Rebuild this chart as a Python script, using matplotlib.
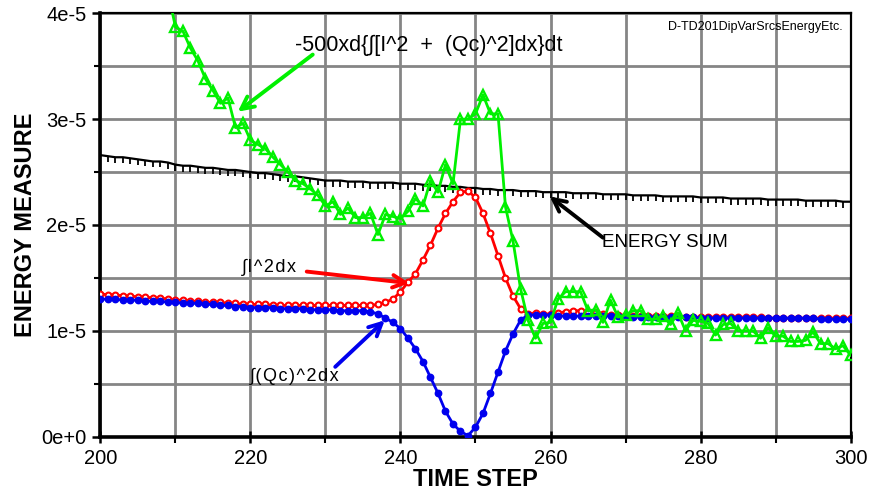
import matplotlib
matplotlib.use("Agg")
import matplotlib.pyplot as plt
from matplotlib.ticker import MultipleLocator, FixedLocator, FixedFormatter

plt.rcParams['font.family'] = ['Liberation Sans', 'DejaVu Sans']

steps = list(range(200, 301))

# energy sum (units of 1e-5)
energy_sum = [
    2.66, 2.65, 2.64, 2.64, 2.63, 2.62, 2.61, 2.60, 2.60, 2.59, 2.57,
    2.56, 2.56, 2.55, 2.54, 2.54, 2.53, 2.52, 2.52, 2.51, 2.50,
    2.49, 2.49, 2.48, 2.47, 2.46, 2.46, 2.45, 2.44, 2.43, 2.42,
    2.42, 2.42, 2.41, 2.41, 2.41, 2.40, 2.40, 2.40, 2.40, 2.39,
    2.39, 2.39, 2.38, 2.38, 2.37, 2.37, 2.36, 2.36, 2.35, 2.35,
    2.34, 2.34, 2.33, 2.33, 2.33, 2.32, 2.32, 2.32, 2.31, 2.31,
    2.31, 2.31, 2.30, 2.30, 2.30, 2.30, 2.29, 2.29, 2.29, 2.29,
    2.28, 2.28, 2.28, 2.28, 2.27, 2.27, 2.27, 2.27, 2.27, 2.26,
    2.26, 2.26, 2.26, 2.25, 2.25, 2.25, 2.25, 2.25, 2.24, 2.24,
    2.24, 2.24, 2.24, 2.23, 2.23, 2.23, 2.23, 2.23, 2.22, 2.22,
]

# integral of I^2 over x
int_i2 = [
    1.35, 1.34, 1.34, 1.33, 1.33, 1.32, 1.32, 1.31, 1.31, 1.30, 1.29,
    1.29, 1.28, 1.28, 1.27, 1.27, 1.27, 1.26, 1.26, 1.25, 1.25,
    1.25, 1.25, 1.24, 1.24, 1.24, 1.24, 1.24, 1.24, 1.24, 1.24,
    1.24, 1.24, 1.24, 1.24, 1.24, 1.24, 1.25, 1.27, 1.30, 1.37,
    1.46, 1.54, 1.67, 1.81, 1.97, 2.11, 2.22, 2.31, 2.32, 2.26,
    2.11, 1.92, 1.71, 1.50, 1.33, 1.21, 1.16, 1.17, 1.16, 1.16,
    1.17, 1.18, 1.19, 1.19, 1.18, 1.18, 1.16, 1.15, 1.15, 1.15,
    1.14, 1.14, 1.14, 1.14, 1.14, 1.14, 1.14, 1.13, 1.13, 1.13,
    1.13, 1.13, 1.13, 1.13, 1.13, 1.13, 1.13, 1.13, 1.12, 1.12,
    1.12, 1.12, 1.12, 1.12, 1.12, 1.12, 1.12, 1.12, 1.12, 1.12,
]

# integral of (Qc)^2 over x
int_qc2 = [
    1.30, 1.30, 1.30, 1.29, 1.29, 1.29, 1.28, 1.28, 1.28, 1.27, 1.27,
    1.26, 1.26, 1.26, 1.25, 1.25, 1.24, 1.24, 1.23, 1.23, 1.22,
    1.22, 1.22, 1.22, 1.21, 1.21, 1.21, 1.21, 1.20, 1.20, 1.20,
    1.20, 1.19, 1.19, 1.19, 1.19, 1.18, 1.16, 1.12, 1.08, 1.02,
    0.93, 0.83, 0.71, 0.56, 0.41, 0.24, 0.12, 0.05, 0.01, 0.09,
    0.22, 0.41, 0.61, 0.81, 0.97, 1.10, 1.15, 1.15, 1.15, 1.15,
    1.14, 1.14, 1.14, 1.14, 1.14, 1.14, 1.14, 1.14, 1.14, 1.14,
    1.13, 1.13, 1.13, 1.13, 1.13, 1.13, 1.13, 1.13, 1.13, 1.12,
    1.12, 1.12, 1.12, 1.12, 1.12, 1.12, 1.12, 1.12, 1.12, 1.12,
    1.12, 1.12, 1.12, 1.12, 1.12, 1.11, 1.11, 1.11, 1.11, 1.11,
]

# -500 x d/dt of the total integral, steps 207..300
rate_steps = list(range(207, 301))
rate = [
    4.90, 4.55, 4.20, 3.87, 3.83, 3.67, 3.55, 3.38, 3.27, 3.15, 3.20,
    2.92, 2.96, 2.80, 2.76, 2.72, 2.64, 2.57, 2.50, 2.42, 2.39,
    2.34, 2.28, 2.18, 2.22, 2.10, 2.16, 2.07, 2.07, 2.11, 1.91,
    2.10, 2.08, 2.06, 2.13, 2.25, 2.18, 2.42, 2.31, 2.57, 2.39,
    3.00, 3.00, 3.05, 3.23, 3.05, 3.05, 2.17, 1.85, 1.40, 1.10,
    0.93, 1.07, 1.08, 1.30, 1.37, 1.37, 1.37, 1.19, 1.20, 1.08,
    1.29, 1.13, 1.15, 1.19, 1.19, 1.11, 1.11, 1.14, 1.06, 1.17,
    1.00, 1.10, 1.09, 1.07, 0.96, 1.06, 1.07, 1.00, 1.00, 1.00,
    0.93, 1.03, 0.95, 0.95, 0.90, 0.90, 0.91, 0.99, 0.88, 0.88,
    0.83, 0.86, 0.77,
]

scale = 1e-5
y_ticks = [0, 1e-5, 2e-5, 3e-5, 4e-5]
y_tick_labels = ["0e+0", "1e-5", "2e-5", "3e-5", "4e-5"]
x_ticks = [200, 220, 240, 260, 280, 300]

GREEN = '#00f000'
RED = '#ff0000'
BLUE = '#0000ee'


def tracked(s):
    """Loosen letter spacing slightly with hair spaces between characters."""
    return '\u200a'.join(s)


fig = plt.figure(figsize=(8.70, 4.98), dpi=100)
ax = fig.add_axes([0.1155, 0.1231, 0.8621, 0.8502])

ax.plot(steps, [v * scale for v in energy_sum], color='black', lw=1.6,
        marker=3, ms=4, mew=1.3, zorder=3)
ax.plot(steps, [v * scale for v in int_i2], color=RED, lw=2.0,
        marker='o', ms=4.2, mfc='white', mec=RED, mew=1.5, zorder=4)
ax.plot(steps, [v * scale for v in int_qc2], color=BLUE, lw=2.0,
        marker='o', ms=4.6, mfc=BLUE, mec=BLUE, zorder=5)
ax.plot(rate_steps, [v * scale for v in rate], color=GREEN, lw=2.0,
        marker='^', ms=7.5, mfc='none', mec=GREEN, mew=1.7, zorder=6)

ax.set_xlim(200, 300)
ax.set_ylim(0, 4e-5)

ax.xaxis.set_major_locator(FixedLocator(x_ticks))
ax.xaxis.set_minor_locator(MultipleLocator(10))
ax.yaxis.set_major_locator(FixedLocator(y_ticks))
ax.yaxis.set_major_formatter(FixedFormatter(y_tick_labels))
ax.yaxis.set_minor_locator(MultipleLocator(0.5e-5))

ax.grid(which='both', color='#858585', lw=2.0)
ax.set_axisbelow(True)

ax.tick_params(axis='y', which='major', direction='out', length=6, width=1.8,
               labelsize=14.5, pad=4)
ax.tick_params(axis='y', which='minor', direction='out', length=4, width=1.5)
ax.tick_params(axis='x', which='major', direction='inout', length=9, width=1.8,
               labelsize=14.5, pad=4)
ax.tick_params(axis='x', which='minor', direction='out', length=4, width=1.5)

for side in ('left', 'bottom'):
    ax.spines[side].set_linewidth(2.6)
for side in ('top', 'right'):
    ax.spines[side].set_linewidth(1.6)

ax.set_xlabel("TIME STEP", fontsize=17, fontweight='bold', labelpad=0)
ax.set_ylabel("ENERGY MEASURE", fontsize=17, fontweight='bold', labelpad=3)

# annotations
arrow_kw = dict(arrowstyle='->,head_length=0.9,head_width=0.45', lw=2.8,
                shrinkA=0, shrinkB=0)

ax.annotate('', xy=(218.3, 3.07e-5), xytext=(228.3, 3.61e-5),
            arrowprops=dict(color=GREEN, **arrow_kw), zorder=7)
ax.text(225.9, 3.70e-5, "-500xd{\u222b[I^2  +  (Qc)^2]dx}dt", fontsize=15.5,
        ha='left', va='center')

ax.annotate('', xy=(241.2, 1.45e-5), xytext=(227.5, 1.56e-5),
            arrowprops=dict(color=RED, **arrow_kw), zorder=7)
ax.text(218.9, 1.60e-5, tracked("\u222bI^2dx"), fontsize=13,
        ha='left', va='center')

ax.annotate('', xy=(237.9, 1.10e-5), xytext=(231.3, 0.66e-5),
            arrowprops=dict(color=BLUE, **arrow_kw), zorder=7)
ax.text(219.9, 0.565e-5, tracked("\u222b(Qc)^2dx"), fontsize=13,
        ha='left', va='center')

ax.annotate('', xy=(259.9, 2.27e-5), xytext=(267.0, 1.88e-5),
            arrowprops=dict(color='black', **arrow_kw), zorder=7)
ax.text(266.9, 1.835e-5, "ENERGY SUM", fontsize=13.5,
        ha='left', va='center')

ax.text(298.9, 3.87e-5, "D-TD201DipVarSrcsEnergyEtc.", fontsize=9,
        ha='right', va='center')

fig.savefig("out.png", dpi=100)
